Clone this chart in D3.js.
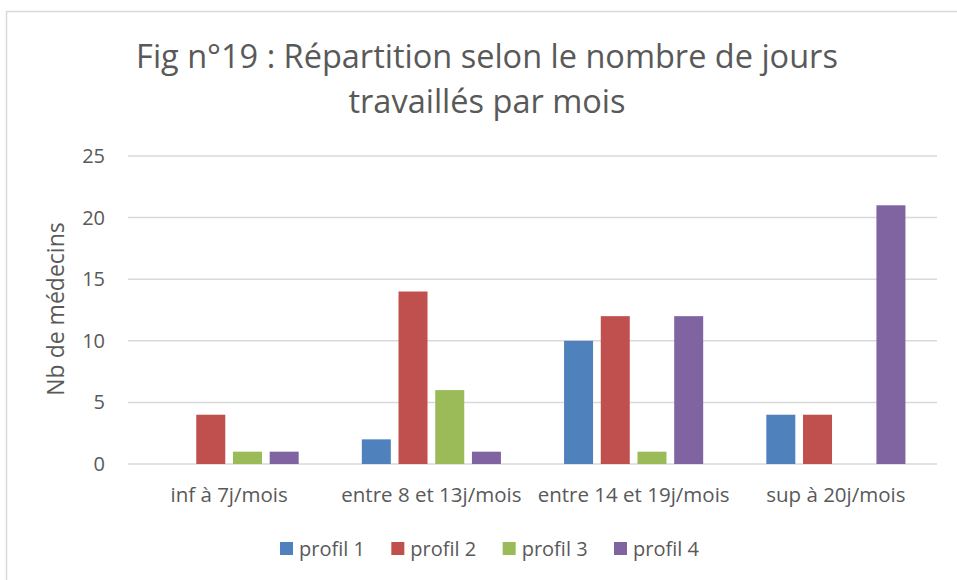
<!DOCTYPE html>
<html>
<head>
<meta charset="utf-8">
<script src="https://cdn.jsdelivr.net/npm/d3@7"></script>
<style>
  body { margin: 0; background: #fff; }
  svg text { font-family: "Open Sans", sans-serif; fill: #595959; }
</style>
</head>
<body>
<svg id="chart"></svg>
<script>
const categories = ["inf à 7j/mois", "entre 8 et 13j/mois", "entre 14 et 19j/mois", "sup à 20j/mois"];
const seriesNames = ["profil 1", "profil 2", "profil 3", "profil 4"];
const profil1 = [0, 2, 10, 4];
const profil2 = [4, 14, 12, 4];
const profil3 = [1, 6, 1, 0];
const profil4 = [1, 1, 12, 21];
const colors = ["#4F81BD", "#C0504D", "#9BBB59", "#8064A2"];
const yTicks = [0, 5, 10, 15, 20, 25];

const width = 957, height = 580;
const svg = d3.select("#chart").attr("width", width).attr("height", height);

// chart frame
svg.append("rect")
  .attr("x", 6.5).attr("y", 11.5)
  .attr("width", width + 10).attr("height", height + 10)
  .attr("fill", "none").attr("stroke", "#d9d9d9").attr("stroke-width", 1.5);

const plot = { left: 128, right: 937, top: 156, bottom: 464 };

const series = seriesNames.map((name, i) => ({
  name: name,
  color: colors[i],
  values: [profil1, profil2, profil3, profil4][i]
}));

const x0 = d3.scaleBand()
  .domain(categories)
  .range([plot.left, plot.right])
  .paddingInner(0.274)
  .paddingOuter(0.137);

const x1 = d3.scaleBand()
  .domain(seriesNames)
  .range([0, x0.bandwidth()])
  .paddingInner(0.21)
  .paddingOuter(0.105);

const y = d3.scaleLinear().domain([0, 25]).range([plot.bottom, plot.top]);

// gridlines
svg.append("g")
  .selectAll("line")
  .data(yTicks)
  .join("line")
    .attr("x1", plot.left).attr("x2", plot.right)
    .attr("y1", d => y(d)).attr("y2", d => y(d))
    .attr("stroke", "#d9d9d9").attr("stroke-width", 1.5);

// y axis labels
const yAxis = svg.append("g")
  .attr("transform", `translate(${plot.left - 23},0)`)
  .call(d3.axisLeft(y).tickValues(yTicks).tickSize(0).tickPadding(0));
yAxis.select(".domain").remove();
yAxis.selectAll("text")
  .attr("font-size", 20)
  .attr("fill", "#595959")
  .attr("font-family", "Open Sans, sans-serif");

// bars
const groups = svg.append("g")
  .selectAll("g")
  .data(series)
  .join("g")
    .attr("fill", d => d.color);

groups.selectAll("rect")
  .data(s => s.values.map((v, i) => ({ name: s.name, cat: categories[i], value: v })))
  .join("rect")
    .attr("x", d => x0(d.cat) + x1(d.name))
    .attr("y", d => y(d.value))
    .attr("width", x1.bandwidth())
    .attr("height", d => y(0) - y(d.value));

// x axis labels
const xAxis = svg.append("g")
  .attr("transform", `translate(0,502)`)
  .call(d3.axisBottom(x0).tickSize(0).tickPadding(0));
xAxis.select(".domain").remove();
xAxis.selectAll("text")
  .attr("font-size", 20.5)
  .attr("fill", "#595959")
  .attr("font-family", "Open Sans, sans-serif")
  .attr("y", 0)
  .attr("dy", 0);

// y axis title
svg.append("text")
  .attr("transform", "translate(64,309) rotate(-90)")
  .attr("text-anchor", "middle")
  .attr("font-size", 23)
  .text("Nb de médecins");

// title
const titleLines = ["Fig n°19 : Répartition selon le nombre de jours", "travaillés par mois"];
svg.append("g")
  .selectAll("text")
  .data(titleLines)
  .join("text")
    .attr("x", 487)
    .attr("y", (d, i) => 68 + i * 45)
    .attr("text-anchor", "middle")
    .attr("font-size", 32.5)
    .text(d => d);

// legend
const legendX = d3.scalePoint()
  .domain(seriesNames)
  .range([280, 614]);

const legend = svg.append("g")
  .selectAll("g")
  .data(series)
  .join("g")
    .attr("transform", d => `translate(${legendX(d.name)},542)`);

legend.append("rect")
  .attr("width", 13).attr("height", 13)
  .attr("fill", d => d.color);

legend.append("text")
  .attr("x", 19).attr("y", 14)
  .attr("font-size", 20)
  .text(d => d.name);
</script>
</body>
</html>
